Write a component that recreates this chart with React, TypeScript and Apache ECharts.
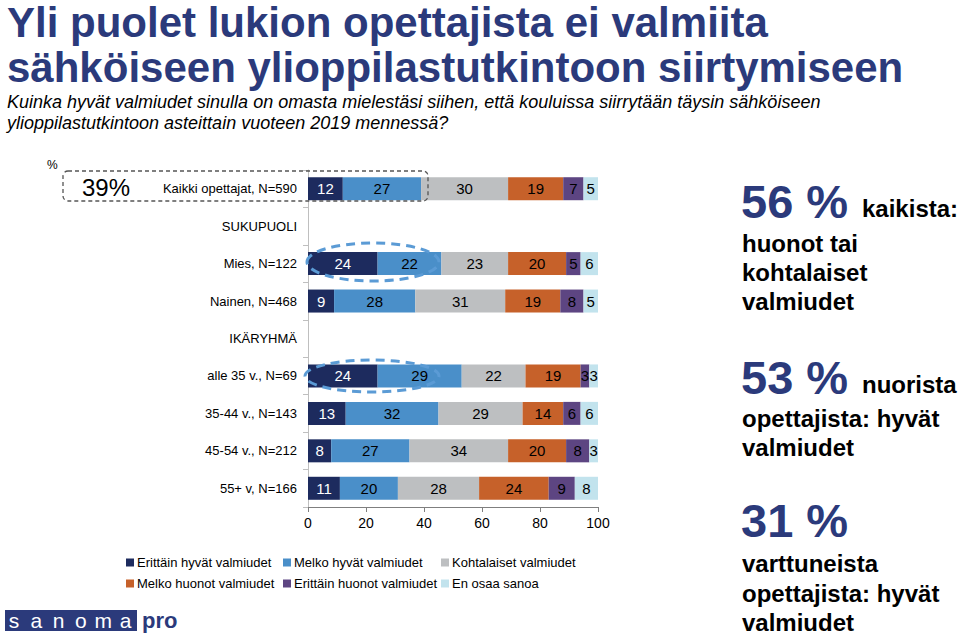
import React, { useEffect, useRef } from 'react';
import * as echarts from 'echarts';

const categories = [
  'Kaikki opettajat, N=590',
  'SUKUPUOLI',
  'Mies, N=122',
  'Nainen, N=468',
  'IKÄRYHMÄ',
  'alle 35 v., N=69',
  '35-44 v., N=143',
  '45-54 v., N=212',
  '55+ v, N=166',
];
const seriesNames = [
  'Erittäin hyvät valmiudet',
  'Melko hyvät valmiudet',
  'Kohtalaiset valmiudet',
  'Melko huonot valmiudet',
  'Erittäin huonot valmiudet',
  'En osaa sanoa',
];
const erittainHyvat = [12, null, 24, 9, null, 24, 13, 8, 11];
const melkoHyvat = [27, null, 22, 28, null, 29, 32, 27, 20];
const kohtalaiset = [30, null, 23, 31, null, 22, 29, 34, 28];
const melkoHuonot = [19, null, 20, 19, null, 19, 14, 20, 24];
const erittainHuonot = [7, null, 5, 8, null, 3, 6, 8, 9];
const enOsaaSanoa = [5, null, 6, 5, null, 3, 6, 3, 8];
const xTicks = [0, 20, 40, 60, 80, 100];

const colors = ['#1d2b5e', '#4a8fc9', '#bdbfc1', '#c6612a', '#5d4582', '#c2e3ed'];
const labelColors = ['#ffffff', '#000000', '#000000', '#000000', '#000000', '#000000'];
const NAVY = '#2b3a7b';
const FONT = 'Arial, "Liberation Sans", Helvetica, sans-serif';

export default function App() {
  const ref = useRef<HTMLDivElement>(null);
  useEffect(() => {
    if (!ref.current) return;
    const chart = echarts.init(ref.current, undefined, { renderer: 'svg' });
    const data = [erittainHyvat, melkoHyvat, kohtalaiset, melkoHuonot, erittainHuonot, enOsaaSanoa];

    const txt = (text: string, x: number, y: number, size: number, opts: any = {}) => ({
      type: 'text',
      x,
      y,
      z: 100,
      style: {
        text,
        fontSize: size,
        fontFamily: FONT,
        fontWeight: opts.weight || 'normal',
        fill: opts.fill || '#000',
        align: opts.align || 'left',
        verticalAlign: 'middle',
      },
    });

    const logoLetters = 'sanoma'.split('').map((ch, i) =>
      txt(ch, 14 + i * 22.3, 620, 21, { fill: '#ffffff', align: 'center' })
    );

    const option: any = {
      animation: false,
      textStyle: { fontFamily: FONT },
      title: {
        text: 'Yli puolet lukion opettajista ei valmiita\nsähköiseen ylioppilastutkintoon siirtymiseen',
        left: 7,
        top: 0,
        padding: 0,
        itemGap: 1,
        textStyle: { fontSize: 42, fontWeight: 'bold', color: NAVY, lineHeight: 45, fontFamily: FONT },
        subtext:
          'Kuinka hyvät valmiudet sinulla on omasta mielestäsi siihen, että kouluissa siirrytään täysin sähköiseen\nylioppilastutkintoon asteittain vuoteen 2019 mennessä?',
        subtextStyle: { fontSize: 18, fontStyle: 'italic', color: '#000', lineHeight: 21, fontFamily: FONT },
      },
      legend: [
        [0, 3],
        [1, 4],
        [2, 5],
      ].map((idx, c) => ({
        orient: 'vertical',
        left: [126, 283, 441][c],
        top: 556,
        itemWidth: 8,
        itemHeight: 8,
        itemGap: 8,
        icon: 'rect',
        padding: 0,
        textStyle: { fontSize: 13, color: '#000', fontFamily: FONT, padding: [0, 0, 0, -2] },
        data: idx.map((i) => seriesNames[i]),
      })),
      grid: { left: 308, right: 362, top: 170, bottom: 130 },
      xAxis: {
        type: 'value',
        min: 0,
        max: 100,
        interval: 20,
        axisLine: { show: true, lineStyle: { color: '#7f7f7f' } },
        axisTick: { show: true, length: 5, lineStyle: { color: '#7f7f7f' } },
        axisLabel: { fontSize: 14, color: '#000', margin: 9, fontFamily: FONT,
          formatter: (v: number) => (xTicks.includes(v) ? String(v) : '') },
        splitLine: { show: false },
      },
      yAxis: {
        type: 'category',
        inverse: true,
        data: categories,
        axisLine: { show: true, lineStyle: { color: '#bfbfbf' } },
        axisTick: { show: true, length: 5, lineStyle: { color: '#bfbfbf' } },
        axisLabel: { fontSize: 13, color: '#000', margin: 11, fontFamily: FONT },
      },
      series: seriesNames.map((name, i) => ({
        name,
        type: 'bar',
        stack: 'total',
        barWidth: 23,
        data: data[i],
        itemStyle: { color: colors[i] },
        label: {
          show: true,
          position: 'inside',
          color: labelColors[i],
          fontSize: 15,
          fontFamily: FONT,
        },
      })),
      graphic: [
        txt('%', 47, 165, 12),
        txt('39%', 82, 187, 24),
        {
          type: 'rect',
          z: 100,
          shape: { x: 63, y: 171, width: 365, height: 30, r: 5 },
          style: { fill: 'none', stroke: '#555', lineWidth: 1.3, lineDash: [4, 3] },
        },
        {
          type: 'ellipse',
          z: 100,
          shape: { cx: 373, cy: 262, rx: 66, ry: 19 },
          style: { fill: 'none', stroke: '#5b9bd5', lineWidth: 3, lineDash: [9, 6] },
        },
        {
          type: 'ellipse',
          z: 100,
          shape: { cx: 372, cy: 376, rx: 67, ry: 16 },
          style: { fill: 'none', stroke: '#5b9bd5', lineWidth: 3, lineDash: [9, 6] },
        },
        txt('56 %', 741, 201, 47, { weight: 'bold', fill: NAVY }),
        txt('kaikista:', 862, 208, 24, { weight: 'bold' }),
        txt('huonot tai', 742, 243, 24, { weight: 'bold' }),
        txt('kohtalaiset', 742, 272, 24, { weight: 'bold' }),
        txt('valmiudet', 742, 301, 24, { weight: 'bold' }),
        txt('53 %', 741, 377, 47, { weight: 'bold', fill: NAVY }),
        txt('nuorista', 862, 384, 24, { weight: 'bold' }),
        txt('opettajista: hyvät', 742, 418, 24, { weight: 'bold' }),
        txt('valmiudet', 742, 447, 24, { weight: 'bold' }),
        txt('31 %', 741, 520, 47, { weight: 'bold', fill: NAVY }),
        txt('varttuneista', 742, 563, 24, { weight: 'bold' }),
        txt('opettajista: hyvät', 742, 593, 24, { weight: 'bold' }),
        txt('valmiudet', 742, 622, 24, { weight: 'bold' }),
        {
          type: 'rect',
          z: 99,
          shape: { x: 5, y: 610, width: 132, height: 21 },
          style: { fill: NAVY },
        },
        ...logoLetters,
        txt('pro', 142, 620, 22, { fill: NAVY, weight: 'bold' }),
      ],
    };
    chart.setOption(option);
    return () => chart.dispose();
  }, []);
  return (
    <div
      ref={ref}
      style={{ position: 'absolute', left: 0, top: 0, width: 960, height: 637, background: '#fff' }}
    />
  );
}
